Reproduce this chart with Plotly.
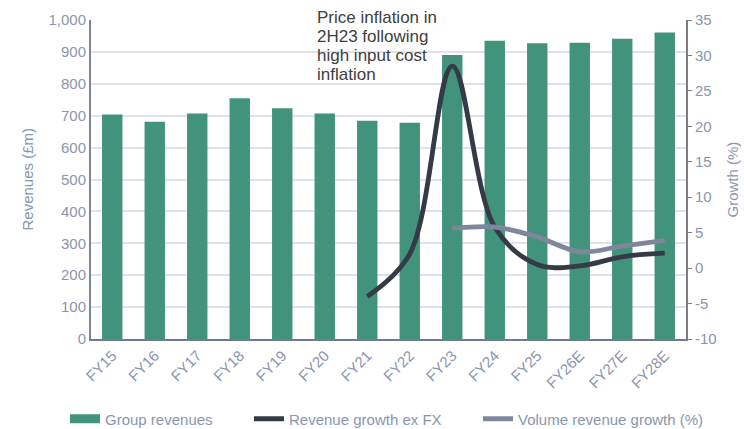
import plotly.graph_objects as go

# Data
years = ['FY15', 'FY16', 'FY17', 'FY18', 'FY19', 'FY20', 'FY21',
         'FY22', 'FY23', 'FY24', 'FY25', 'FY26E', 'FY27E', 'FY28E']
group_revenues = [704, 681, 707, 755, 723, 707, 684, 678, 890, 935, 927, 929, 941, 961]

growth_years = ['FY21', 'FY22', 'FY23', 'FY24', 'FY25', 'FY26E', 'FY27E', 'FY28E']
revenue_growth_ex_fx = [-4.0, 2.0, 28.5, 5.8, 0.5, 0.3, 1.6, 2.1]

volume_years = ['FY23', 'FY24', 'FY25', 'FY26E', 'FY27E', 'FY28E']
volume_growth = [5.6, 5.8, 4.4, 2.3, 3.1, 3.9]

growth_ticks = [-10, -5, 0, 5, 10, 15, 20, 25, 30, 35]
growth_tick_text = [str(v) for v in growth_ticks]  # plain hyphen minus like the source

note_lines = ['Price inflation in', '2H23 following', 'high input cost', 'inflation']

font_family = 'Liberation Sans, Arial, sans-serif'
tick_color = '#8a96ae'
green = '#42937b'
dark = '#343a46'
slate = '#7e879b'

fig = go.Figure()

fig.add_trace(go.Bar(x=years, y=group_revenues, name='Group revenues', showlegend=False,
                     marker=dict(color=green, line=dict(width=0))))

# legend-only entries so the bar gets a wide rectangle symbol
fig.add_trace(go.Scatter(x=[None], y=[None], mode='lines', name='Group revenues',
                         line=dict(color=green, width=9), legend='legend'))

fig.add_trace(go.Scatter(x=growth_years, y=revenue_growth_ex_fx, name='Revenue growth ex FX',
                         yaxis='y2', mode='lines', legend='legend2',
                         line=dict(color=dark, width=4.8, shape='spline', smoothing=1.0)))

fig.add_trace(go.Scatter(x=volume_years, y=volume_growth, name='Volume revenue growth (%)',
                         yaxis='y2', mode='lines', legend='legend3',
                         line=dict(color=slate, width=4.8, shape='spline', smoothing=1.0)))

# callout text, one annotation per line to keep the tight line spacing
for i, line in enumerate(note_lines):
    fig.add_annotation(text=line, xref='paper', yref='paper',
                       x=(315 - 91) / 595, y=(339 - (17 + 19 * i)) / 319,
                       xanchor='left', yanchor='middle', align='left', showarrow=False,
                       font=dict(family=font_family, size=17, color='#404040'))

# axis titles
fig.add_annotation(text='Revenues (£m)', xref='paper', yref='paper',
                   x=(27 - 91) / 595, y=0.5, textangle=-90, showarrow=False,
                   xanchor='center', yanchor='middle',
                   font=dict(family=font_family, size=15, color=tick_color))
fig.add_annotation(text='Growth (%)', xref='paper', yref='paper',
                   x=(732 - 91) / 595, y=0.5, textangle=-90, showarrow=False,
                   xanchor='center', yanchor='middle',
                   font=dict(family=font_family, size=15, color=tick_color))

legend_style = dict(orientation='h', y=(339 - 419) / 319, yanchor='middle', xanchor='left',
                    font=dict(family=font_family, size=15, color=tick_color),
                    bgcolor='rgba(0,0,0,0)', itemwidth=30)

fig.update_layout(
    width=744, height=429,
    margin=dict(l=91, r=58, t=20, b=90, autoexpand=False),
    plot_bgcolor='white', paper_bgcolor='white',
    font=dict(family=font_family, size=15, color=tick_color),
    bargap=0.52,
    showlegend=True,
    legend=dict(legend_style, x=(65 - 91) / 595),
    legend2=dict(legend_style, x=(249 - 91) / 595),
    legend3=dict(legend_style, x=(478 - 91) / 595),
    xaxis=dict(showline=True, linecolor='#6f7b93', linewidth=2, tickangle=-45,
               tickfont=dict(size=15, color=tick_color), ticks=''),
    yaxis=dict(range=[0, 1000], dtick=100, tickformat=',', showgrid=True,
               gridcolor='#dfe2ea', gridwidth=2, showline=True, linecolor='#7a859c',
               linewidth=2, zeroline=False,
               tickfont=dict(size=15, color=tick_color)),
    yaxis2=dict(range=[-10, 35], tickvals=growth_ticks, ticktext=growth_tick_text,
                overlaying='y', side='right', showgrid=False,
                showline=True, linecolor='#7d7d7d', linewidth=2, zeroline=False,
                ticks='outside', ticklen=4, tickcolor='#7d7d7d',
                tickfont=dict(size=15, color=tick_color)),
)

# drop the default page margin so the figure sits flush in the window
fig.write_html('out.html', config={'displayModeBar': False},
               post_script="document.body.style.margin='0';")
